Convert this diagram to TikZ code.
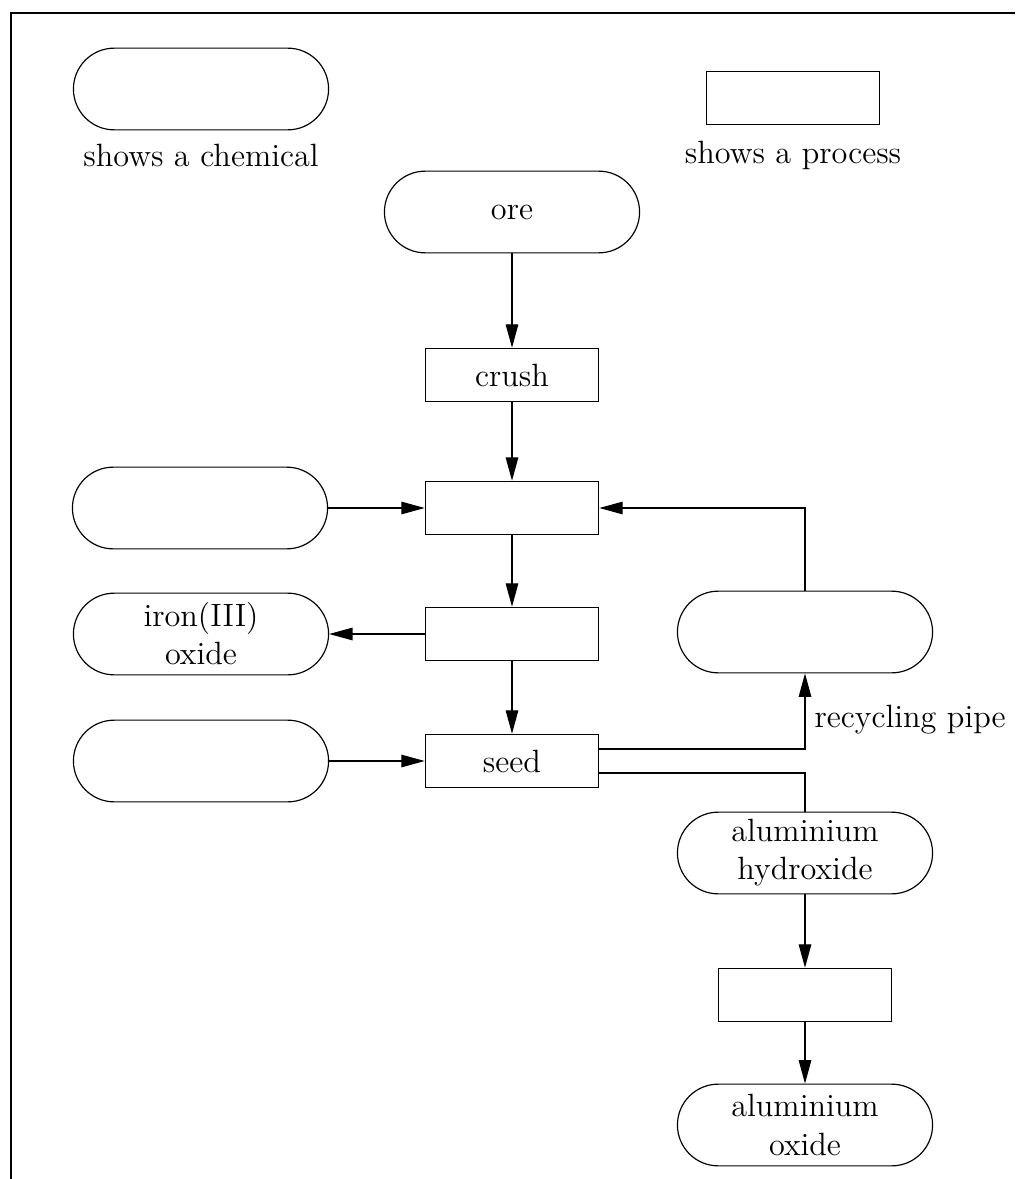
\documentclass[tikz,border=0pt]{standalone}
\usetikzlibrary{arrows.meta}
\tikzset{
  chem/.style={draw,rounded corners=0.49cm,minimum width=3.06cm,minimum height=0.98cm,
    inner sep=1pt,align=center},
  proc/.style={draw,minimum width=2.08cm,minimum height=0.64cm,inner sep=1pt},
  flow/.style={thin,-{Triangle[length=2.8mm,width=1.5mm]}}
}
\begin{document}
\begin{tikzpicture}[x=0.012cm,y=-0.012cm,font=\fontsize{11}{13}\selectfont]
\useasboundingbox (0,0) rectangle (1015,1179);
\draw[line width=0.9pt] (11,1179) -- (11,13) -- (1015,13);
% key
\node[chem] (keychem) at (201,89) {};
\node (keychemtxt) at (201,155) {shows a chemical};
\node[proc] (keyproc) at (793,98) {};
\node (keyproctxt) at (793,155) {shows a process};
% main line
\node[chem] (ore) at (512,212) {ore};
\node[proc] (crush) at (512,375) {crush};
\node[proc] (mix) at (512,508) {};
\node[chem] (alkali) at (200,508) {};
\node[proc] (filter) at (512,634) {};
\node[chem] (ironox) at (201,634) {iron(III)\\oxide};
\node[chem] (recyc) at (805,632) {};
\node[proc] (seed) at (512,761) {seed};
\node[chem] (seedchem) at (201,761) {};
\node[chem] (alhyd) at (805,853) {aluminium\\hydroxide};
\node[proc] (heat) at (805,995) {};
\node[chem] (alox) at (805,1125) {aluminium\\oxide};
% connectors
\draw[flow] (ore) -- (crush);
\draw[flow] (crush) -- (mix);
\draw[flow] (alkali) -- (mix);
\draw[flow] (mix) -- (filter);
\draw[flow] (filter) -- (ironox);
\draw[flow] (filter) -- (seed);
\draw[flow] (seedchem) -- (seed);
\draw[flow] (recyc.north) |- (mix.east);
\draw[flow] ([yshift=0.144cm]seed.east) -| (recyc.south);
\draw[thin] ([yshift=-0.144cm]seed.east) -| (alhyd.north);
\node[right,inner sep=0pt] (pipelbl) at (814,720) {recycling pipe};
\draw[flow] (alhyd) -- (heat);
\draw[flow] (heat) -- (alox);
\end{tikzpicture}
\end{document}
